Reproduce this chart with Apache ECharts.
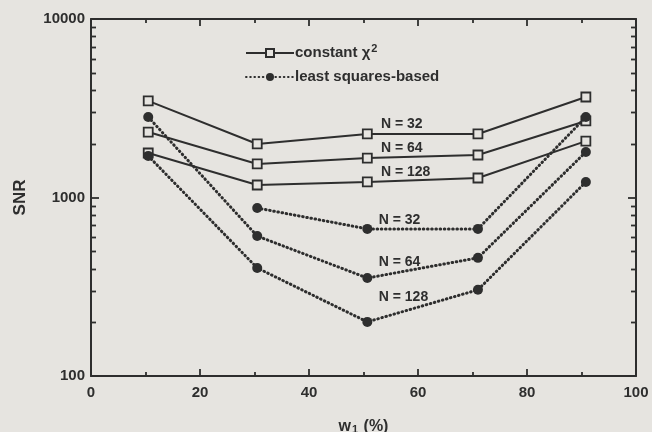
<!DOCTYPE html>
<html>
<head>
<meta charset="utf-8">
<script src="https://cdn.jsdelivr.net/npm/echarts@6/dist/echarts.min.js"></script>
<style>
  html, body { margin: 0; padding: 0; background: #e6e4e0; }
  #chart { width: 652px; height: 432px; }
</style>
</head>
<body>
<div id="chart"></div>
<script>
// Weight w1 (%) at which each case was evaluated
const weights = [10.5, 30.5, 50.7, 71, 90.8];

// SNR, constant chi-square method
const chiN32 = [3475, 1995, 2270, 2270, 3655];
const chiN64 = [2326, 1542, 1663, 1730, 2685];
const chiN128 = [1775, 1175, 1222, 1286, 2070];

// SNR, least-squares-based method
const lsN32 = [null, 873, 667, 667, 2825];
const lsN64 = [2825, 608, 354, 459, 1800];
const lsN128 = [1710, 403, 201, 304, 1222];

const xTicks = [0, 20, 40, 60, 80, 100];
const yTicks = [100, 1000, 10000];
const yMinorTicks = [200, 300, 400, 500, 600, 700, 800, 900,
                     2000, 3000, 4000, 5000, 6000, 7000, 8000, 9000];

const chiName = 'constant χ²';
const lsName = 'least squares-based';

// Curve labels: [text, w1, SNR]
const curveLabels = [
  ['N = 32', 53.2, 2583],
  ['N = 64', 53.2, 1888],
  ['N = 128', 53.2, 1388],
  ['N = 32', 52.8, 748],
  ['N = 64', 52.8, 435],
  ['N = 128', 52.8, 277]
];

const INK = '#2e2e2e';
const BG = '#e6e4e0';
const FONT = '"Liberation Sans", Arial, sans-serif';

const pairs = vals => weights.map((w, i) => [w, vals[i] == null ? '-' : vals[i]]);

function chiSeries(vals) {
  return {
    name: chiName, type: 'line', data: pairs(vals),
    symbol: 'rect', symbolSize: 9,
    lineStyle: { color: INK, width: 2 },
    itemStyle: { color: BG, borderColor: INK, borderWidth: 1.8 },
    z: 3
  };
}
function lsSeries(vals) {
  return {
    name: lsName, type: 'line', data: pairs(vals),
    symbol: 'circle', symbolSize: 10,
    lineStyle: { color: INK, width: 3, type: [0.6, 3.6], cap: 'round' },
    itemStyle: { color: INK, borderColor: INK, borderWidth: 0 },
    z: 4
  };
}

const chart = echarts.init(document.getElementById('chart'), null, { renderer: 'canvas' });

const axisLineStyle = { color: INK, width: 2 };

chart.setOption({
  backgroundColor: BG,
  animation: false,
  textStyle: { fontFamily: FONT },
  grid: { left: 91, right: 16, top: 19, bottom: 56, outerBoundsMode: 'none', containLabel: false },
  legend: {
    orient: 'vertical', left: 240, top: 38,
    itemWidth: 48, itemHeight: 10, itemGap: 9,
    data: [chiName, lsName],
    formatter: name => name === chiName ? '{t|constant χ}{s|2}' : '{t|' + name + '}',
    textStyle: {
      color: INK, fontFamily: FONT, padding: [0, 0, 0, -4],
      rich: {
        t: { fontSize: 15, fontWeight: 'bold', color: INK, fontFamily: FONT },
        s: { fontSize: 11, fontWeight: 'bold', color: INK, fontFamily: FONT,
             verticalAlign: 'top', padding: [0, 0, 9, 1] }
      }
    }
  },
  xAxis: [{
    type: 'value', min: 0, max: 100, interval: 20,
    name: '{a|w}{b|1}{a| (%)}', nameLocation: 'middle', nameGap: 42,
    nameTextStyle: {
      rich: {
        a: { fontSize: 16, fontWeight: 'bold', color: INK, fontFamily: FONT },
        b: { fontSize: 11, fontWeight: 'bold', color: INK, fontFamily: FONT,
             verticalAlign: 'bottom', padding: [6, 1, 0, 1] }
      }
    },
    axisLine: { show: true, onZero: false, lineStyle: axisLineStyle },
    axisTick: { inside: true, length: 7, lineStyle: { color: INK, width: 1.8 } },
    minorTick: { show: true, splitNumber: 2, length: 4, lineStyle: { color: INK, width: 1.8 } },
    axisLabel: { color: INK, fontSize: 15, fontWeight: 'bold', margin: 9, fontFamily: FONT,
                 formatter: v => xTicks.includes(v) ? String(v) : '' },
    splitLine: { show: false }
  }, {
    type: 'value', min: 0, max: 100, interval: 20, position: 'top',
    axisLine: { show: true, onZero: false, lineStyle: axisLineStyle },
    axisTick: { inside: true, length: 7, lineStyle: { color: INK, width: 1.8 } },
    minorTick: { show: true, splitNumber: 2, length: 4, lineStyle: { color: INK, width: 1.8 } },
    axisLabel: { show: false },
    splitLine: { show: false }
  }],
  yAxis: [{
    type: 'log', logBase: 10, min: 100, max: 10000,
    name: 'SNR', nameLocation: 'middle', nameGap: 62, nameRotate: 90,
    nameTextStyle: { fontSize: 17, fontWeight: 'bold', color: INK, fontFamily: FONT },
    axisLine: { show: true, onZero: false, lineStyle: axisLineStyle },
    axisTick: { inside: true, length: 8, lineStyle: { color: INK, width: 1.8 } },
    axisLabel: { color: INK, fontSize: 15, fontWeight: 'bold', margin: 6, fontFamily: FONT,
                 formatter: v => yTicks.includes(Math.round(v)) ? String(Math.round(v)) : '' },
    splitLine: { show: false }
  }, {
    type: 'log', logBase: 10, min: 100, max: 10000, position: 'right',
    axisLine: { show: true, onZero: false, lineStyle: axisLineStyle },
    axisTick: { inside: true, length: 8, lineStyle: { color: INK, width: 1.8 } },
    axisLabel: { show: false },
    splitLine: { show: false }
  }],
  series: [
    lsSeries(lsN32), lsSeries(lsN64), lsSeries(lsN128),
    chiSeries(chiN32), chiSeries(chiN64), chiSeries(chiN128)
  ]
});

// Decade minor ticks (2..9 x 10^k) on both log axes, plus curve labels
function drawExtras() {
  const left = chart.convertToPixel({ xAxisIndex: 0 }, 0);
  const right = chart.convertToPixel({ xAxisIndex: 0 }, 100);
  const elements = [];
  yMinorTicks.forEach(v => {
    const y = Math.round(chart.convertToPixel({ yAxisIndex: 0 }, v)) + 0.5;
    elements.push({ type: 'line', shape: { x1: left, y1: y, x2: left + 5, y2: y },
                    style: { stroke: INK, lineWidth: 1.8 }, silent: true });
    elements.push({ type: 'line', shape: { x1: right - 5, y1: y, x2: right, y2: y },
                    style: { stroke: INK, lineWidth: 1.8 }, silent: true });
  });
  curveLabels.forEach(([text, w, snr]) => {
    const p = chart.convertToPixel({ xAxisIndex: 0, yAxisIndex: 0 }, [w, snr]);
    elements.push({ type: 'text', x: p[0], y: p[1], z: 10, silent: true,
      style: { text, fill: INK, font: 'bold 14px ' + FONT,
               textAlign: 'left', textVerticalAlign: 'middle' } });
  });
  chart.setOption({ graphic: { elements } });
}
drawExtras();
</script>
</body>
</html>
